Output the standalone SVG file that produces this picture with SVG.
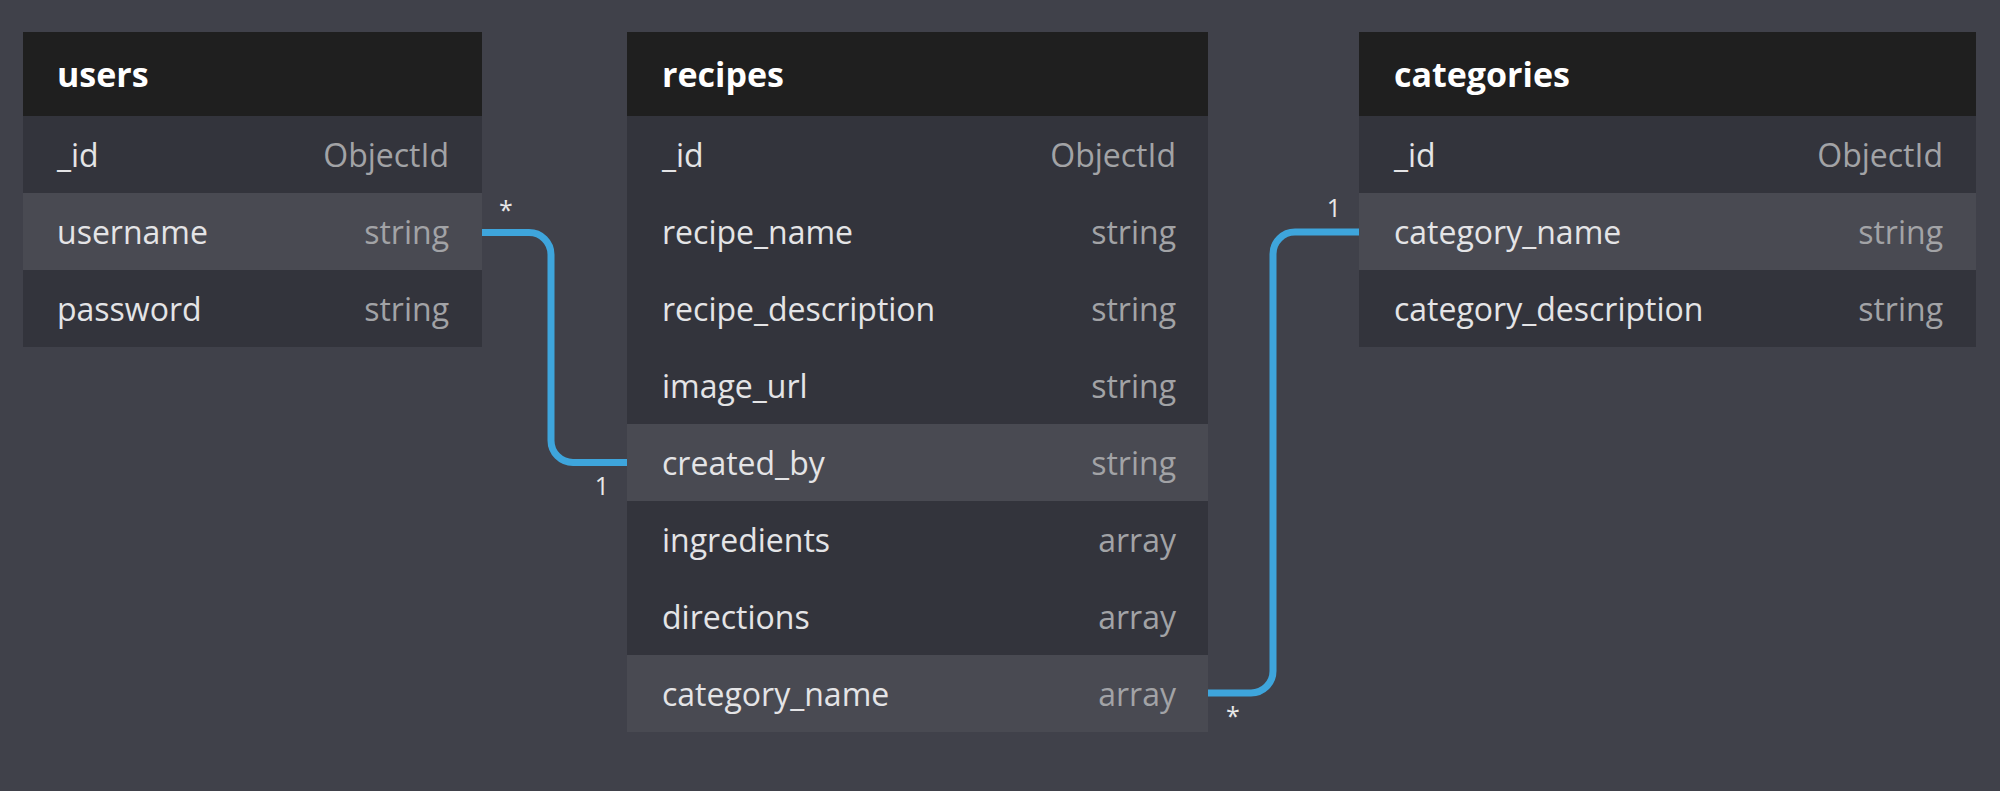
<svg xmlns="http://www.w3.org/2000/svg" width="2000" height="791" viewBox="0 0 2000 791">
<style>
.bg{fill:#40414a}
.hd{fill:#1f1f1f}
.row{fill:#33343c}
.hl{fill:#494a52}
.title{font-family:"Open Sans","Liberation Sans",sans-serif;font-weight:700;font-size:34px;fill:#ffffff}
.name{font-family:"Open Sans","Liberation Sans",sans-serif;font-size:32px;fill:#e4e4e6}
.type{font-family:"Open Sans","Liberation Sans",sans-serif;font-size:32px;fill:#a2a3a6;text-anchor:end}
.card{font-family:"Open Sans","Liberation Sans",sans-serif;font-size:25px;fill:#e8e8e8;text-anchor:middle}
.link{fill:none;stroke:#3ea5dc;stroke-width:7}
</style>
<rect class="bg" x="0" y="0" width="2000" height="791"/>
<g id="connectors">
<path class="link" d="M482 232.5 H529 A22 22 0 0 1 551 254.5 V440.5 A22 22 0 0 0 573 462.5 H627"/>
<path class="link" d="M1208 693 H1251 A22 22 0 0 0 1273 671 V254 A22 22 0 0 1 1295 232 H1359"/>
<text class="card" x="506" y="219">*</text>
<text class="card" x="602" y="495">1</text>
<text class="card" x="1233" y="725">*</text>
<text class="card" x="1334" y="217">1</text>
</g>
<g id="users">
<rect class="hd" x="23" y="32" width="459" height="84"/>
<rect class="row" x="23" y="116" width="459" height="77"/>
<rect class="hl" x="23" y="193" width="459" height="77"/>
<rect class="row" x="23" y="270" width="459" height="77"/>
<text class="title" x="57" y="87">users</text>
<text class="name" x="57" y="167">_id</text><text class="type" x="449" y="167">ObjectId</text>
<text class="name" x="57" y="244">username</text><text class="type" x="449" y="244">string</text>
<text class="name" x="57" y="321">password</text><text class="type" x="449" y="321">string</text>
</g>
<g id="recipes">
<rect class="hd" x="627" y="32" width="581" height="84"/>
<rect class="row" x="627" y="116" width="581" height="308"/>
<rect class="hl" x="627" y="424" width="581" height="77"/>
<rect class="row" x="627" y="501" width="581" height="154"/>
<rect class="hl" x="627" y="655" width="581" height="77"/>
<text class="title" x="662" y="87">recipes</text>
<text class="name" x="662" y="167">_id</text><text class="type" x="1176" y="167">ObjectId</text>
<text class="name" x="662" y="244">recipe_name</text><text class="type" x="1176" y="244">string</text>
<text class="name" x="662" y="321">recipe_description</text><text class="type" x="1176" y="321">string</text>
<text class="name" x="662" y="398">image_url</text><text class="type" x="1176" y="398">string</text>
<text class="name" x="662" y="475">created_by</text><text class="type" x="1176" y="475">string</text>
<text class="name" x="662" y="552">ingredients</text><text class="type" x="1176" y="552">array</text>
<text class="name" x="662" y="629">directions</text><text class="type" x="1176" y="629">array</text>
<text class="name" x="662" y="706">category_name</text><text class="type" x="1176" y="706">array</text>
</g>
<g id="categories">
<rect class="hd" x="1359" y="32" width="617" height="84"/>
<rect class="row" x="1359" y="116" width="617" height="77"/>
<rect class="hl" x="1359" y="193" width="617" height="77"/>
<rect class="row" x="1359" y="270" width="617" height="77"/>
<text class="title" x="1394" y="87">categories</text>
<text class="name" x="1394" y="167">_id</text><text class="type" x="1943" y="167">ObjectId</text>
<text class="name" x="1394" y="244">category_name</text><text class="type" x="1943" y="244">string</text>
<text class="name" x="1394" y="321">category_description</text><text class="type" x="1943" y="321">string</text>
</g>
</svg>
